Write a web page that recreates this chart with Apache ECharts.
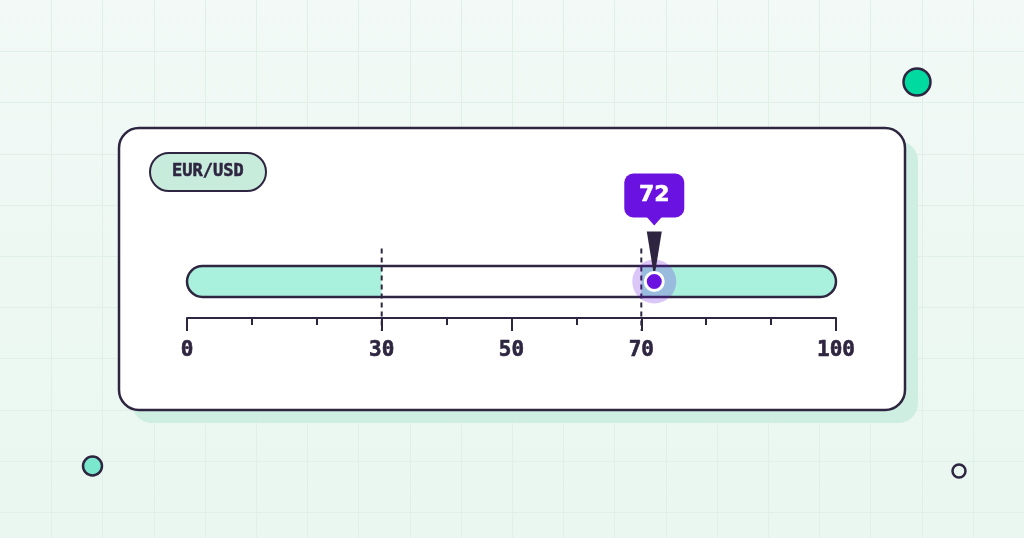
<!DOCTYPE html>
<html><head><meta charset="utf-8">
<script src="https://cdn.jsdelivr.net/npm/echarts@6/dist/echarts.min.js"></script>
<style>html,body{margin:0;padding:0;background:#eef8f3;}#c{width:1024px;height:538px;}</style>
</head><body><div id="c"></div>
<script>
// ---- data ----
const pair = 'EUR/USD';
const currentValue = 72;
const zoneStarts = [0, 30, 70];
const zoneEnds = [30, 70, 100];
const zoneFilled = [1, 0, 1];
const thresholds = [30, 70];
const majorTicks = [0, 30, 50, 70, 100];
const tickLabels = ['0', '30', '50', '70', '100'];
const scaleMin = 0;
const scaleMax = 100;
const minorStep = 10;

// ---- styles ----
const DARK = '#2e2540';
const MINT = '#a9f1dc';
const PURPLE = '#6a12e0';
const TRACK_H = 31;

const chart = echarts.init(document.getElementById('c'), null, {renderer: 'canvas'});

// background decorations
const graphics = [];
for (let k = 1; k < 20; k++) {
  const x = Math.round(k * 51.2) + 0.5;
  graphics.push({type: 'line', z: -10, silent: true, shape: {x1: x, y1: 0, x2: x, y2: 538}, style: {stroke: '#e0f0e8', lineWidth: 1}});
}
for (let k = 1; k < 11; k++) {
  const y = Math.round(k * 51.2) + 0.5;
  graphics.push({type: 'line', z: -10, silent: true, shape: {x1: 0, y1: y, x2: 1024, y2: y}, style: {stroke: '#e0f0e8', lineWidth: 1}});
}
graphics.push(
  {type: 'rect', z: -5, silent: true, shape: {x: 132, y: 141, width: 786, height: 282, r: 20}, style: {fill: '#cdeee0'}},
  {type: 'rect', z: -4, silent: true, shape: {x: 119, y: 128, width: 786, height: 282, r: 20}, style: {fill: '#ffffff', stroke: DARK, lineWidth: 2.5}},
  {type: 'circle', z: -4, silent: true, shape: {cx: 917, cy: 82, r: 13.5}, style: {fill: '#00d9a0', stroke: DARK, lineWidth: 2.5}},
  {type: 'circle', z: -4, silent: true, shape: {cx: 92.5, cy: 466, r: 9.5}, style: {fill: '#7ae8cc', stroke: DARK, lineWidth: 2.5}},
  {type: 'circle', z: -4, silent: true, shape: {cx: 959, cy: 471, r: 6.5}, style: {fill: '#eaf7f1', stroke: DARK, lineWidth: 2.5}}
);

function renderZone(params, api) {
  const s = api.value(0), e = api.value(1);
  const a = api.coord([s, 0]);
  const b = api.coord([e, 0]);
  const r = TRACK_H / 2;
  const first = s === scaleMin, last = e === scaleMax;
  return {
    type: 'rect',
    shape: {x: a[0], y: a[1] - r, width: b[0] - a[0], height: TRACK_H, r: [first ? r : 0, last ? r : 0, last ? r : 0, first ? r : 0]},
    style: {fill: api.value(2) ? MINT : '#ffffff'}
  };
}
function renderOutline(params, api) {
  const a = api.coord([api.value(0), 0]);
  const b = api.coord([api.value(1), 0]);
  const r = TRACK_H / 2;
  return {type: 'rect', shape: {x: a[0], y: a[1] - r, width: b[0] - a[0], height: TRACK_H, r: r},
    style: {fill: 'none', stroke: DARK, lineWidth: 2.5}};
}
function renderThreshold(params, api) {
  const p = api.coord([api.value(0), 0]);
  return {type: 'line', shape: {x1: p[0], y1: p[1] - 33, x2: p[0], y2: p[1] + 49},
    style: {stroke: DARK, lineWidth: 2, lineDash: [5, 4]}};
}
function renderMarker(params, api) {
  const v = api.value(0);
  const p = api.coord([v, 0]);
  const x = p[0], cy = p[1];
  return {
    type: 'group',
    children: [
      {type: 'circle', shape: {cx: x, cy: cy, r: 22}, style: {fill: 'rgba(106,18,224,0.24)'}},
      {type: 'polygon', shape: {points: [[x - 7.5, cy - 50], [x + 7.5, cy - 50], [x, cy - 4]]}, style: {fill: DARK}},
      {type: 'circle', shape: {cx: x, cy: cy, r: 9}, style: {fill: PURPLE, stroke: '#ffffff', lineWidth: 3}},
      {type: 'rect', shape: {x: x - 30, y: cy - 108, width: 60, height: 44, r: 9}, style: {fill: PURPLE}},
      {type: 'polygon', shape: {points: [[x - 8, cy - 65], [x + 8, cy - 65], [x, cy - 56]]}, style: {fill: PURPLE}},
      {type: 'text', x: x, y: cy - 86, style: {text: String(v), fill: '#ffffff', stroke: '#ffffff', lineWidth: 0.6, fontFamily: 'DejaVu Sans', fontWeight: 'bold', fontSize: 22, align: 'center', verticalAlign: 'middle'}}
    ]
  };
}

const gridPos = {left: 187, right: 188, top: 245, bottom: 220, outerBoundsMode: 'none'};

const option = {
  backgroundColor: {type: 'linear', x: 0, y: 0, x2: 0, y2: 1, colorStops: [{offset: 0, color: '#f2f9f6'}, {offset: 1, color: '#e9f7f0'}]},
  animation: false,
  title: {
    text: pair, left: 150, top: 153,
    padding: [10, 22],
    backgroundColor: '#c8ecdc', borderColor: DARK, borderWidth: 2, borderRadius: 19,
    textStyle: {fontFamily: 'DejaVu Sans Mono', fontWeight: 'bold', fontSize: 17, lineHeight: 18, color: DARK, textBorderColor: DARK, textBorderWidth: 0.5}
  },
  graphic: {elements: graphics},
  grid: [Object.assign({}, gridPos), Object.assign({}, gridPos)],
  xAxis: [
    {
      gridIndex: 0, type: 'value', min: scaleMin, max: scaleMax, interval: minorStep, position: 'bottom',
      splitLine: {show: false},
      axisLine: {show: true, onZero: false, lineStyle: {color: DARK, width: 2}},
      axisTick: {show: true, customValues: majorTicks, length: 13, lineStyle: {color: DARK, width: 2}},
      axisLabel: {
        show: true, customValues: majorTicks, margin: 22,
        formatter: function (v) { const i = majorTicks.indexOf(v); return i >= 0 ? tickLabels[i] : ''; },
        fontFamily: 'DejaVu Sans Mono', fontWeight: 'bold', fontSize: 21, color: DARK,
        textBorderColor: DARK, textBorderWidth: 0.6
      }
    },
    {
      gridIndex: 1, type: 'value', min: scaleMin, max: scaleMax, interval: minorStep, position: 'bottom',
      splitLine: {show: false},
      axisLine: {show: false, onZero: false},
      axisTick: {show: true, length: 7, lineStyle: {color: DARK, width: 2}},
      axisLabel: {show: false}
    }
  ],
  yAxis: [
    {gridIndex: 0, type: 'value', min: -1, max: 1, show: false},
    {gridIndex: 1, type: 'value', min: -1, max: 1, show: false}
  ],
  series: [
    {type: 'custom', z: 2, renderItem: renderZone, encode: {x: [0, 1]},
      data: zoneStarts.map((s, i) => [s, zoneEnds[i], zoneFilled[i]])},
    {type: 'custom', z: 3, renderItem: renderOutline, encode: {x: [0, 1]},
      data: [[scaleMin, scaleMax]]},
    {type: 'custom', z: 4, renderItem: renderThreshold, encode: {x: 0},
      data: thresholds.map(v => [v])},
    {type: 'custom', z: 5, renderItem: renderMarker, encode: {x: 0},
      data: [[currentValue]]}
  ]
};
chart.setOption(option);
</script>
</body></html>
